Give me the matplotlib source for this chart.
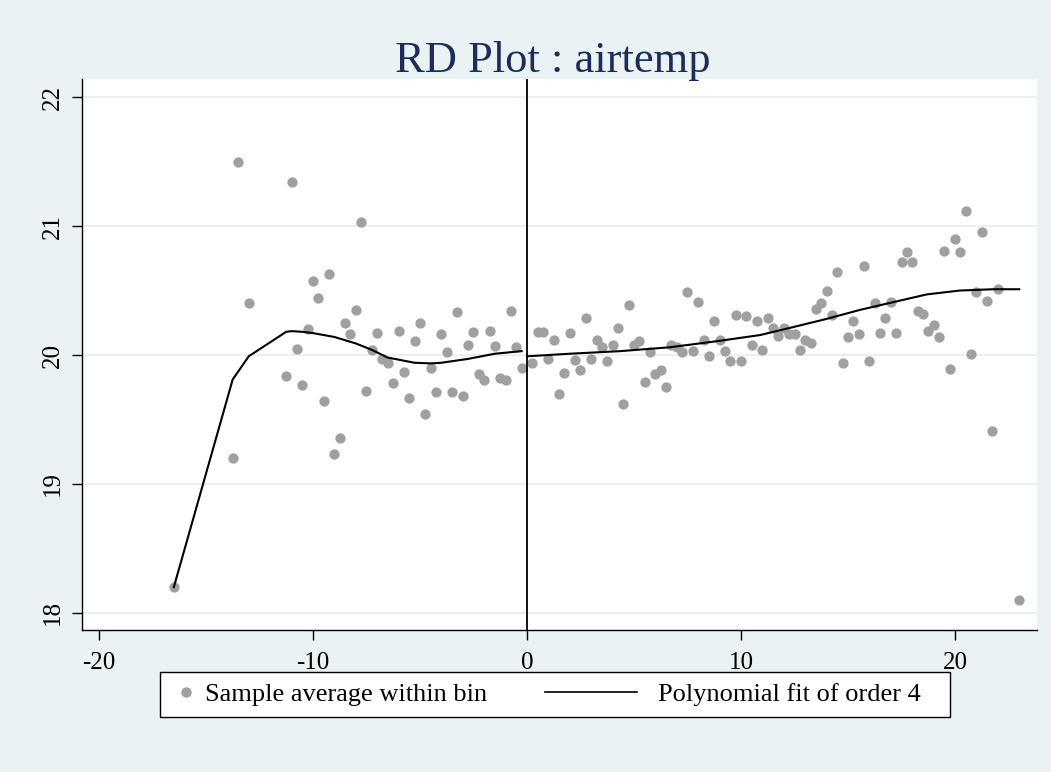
import matplotlib
matplotlib.use("Agg")
import matplotlib.pyplot as plt
from matplotlib.patches import Rectangle
from matplotlib.lines import Line2D

plt.rcParams['font.family'] = ['Liberation Serif', 'DejaVu Serif']

# bin averages, left of cutoff
x_left = [-16.5, -13.75, -13.5, -13.0, -11.25, -11.0, -10.75, -10.5, -10.25, -10.0,
          -9.75, -9.5, -9.25, -9.0, -8.75, -8.5, -8.25, -8.0, -7.75, -7.5,
          -7.25, -7.0, -6.75, -6.5, -6.25, -6.0, -5.75, -5.5, -5.25, -5.0,
          -4.75, -4.5, -4.25, -4.0, -3.75, -3.5, -3.25, -3.0, -2.75, -2.5,
          -2.25, -2.0, -1.75, -1.5, -1.25, -1.0, -0.75, -0.5, -0.25]
y_left = [18.20, 19.20, 21.50, 20.40, 19.84, 21.34, 20.05, 19.77, 20.20, 20.57,
          20.44, 19.64, 20.63, 19.23, 19.36, 20.25, 20.16, 20.35, 21.03, 19.72,
          20.04, 20.17, 19.97, 19.94, 19.78, 20.19, 19.87, 19.67, 20.11, 20.25,
          19.54, 19.90, 19.71, 20.16, 20.02, 19.71, 20.33, 19.68, 20.08, 20.18,
          19.85, 19.81, 20.19, 20.07, 19.82, 19.81, 20.34, 20.06, 19.90]

# bin averages, right of cutoff
x_right = [0.25, 0.5, 0.75, 1.0, 1.25, 1.5, 1.75, 2.0, 2.25, 2.5,
           2.75, 3.0, 3.25, 3.5, 3.75, 4.0, 4.25, 4.5, 4.75, 5.0,
           5.25, 5.5, 5.75, 6.0, 6.25, 6.5, 6.75, 7.0, 7.25, 7.5,
           7.75, 8.0, 8.25, 8.5, 8.75, 9.0, 9.25, 9.5, 9.75, 10.0,
           10.25, 10.5, 10.75, 11.0, 11.25, 11.5, 11.75, 12.0, 12.25, 12.5,
           12.75, 13.0, 13.25, 13.5, 13.75, 14.0, 14.25, 14.5, 14.75, 15.0,
           15.25, 15.5, 15.75, 16.0, 16.25, 16.5, 16.75, 17.0, 17.25, 17.5,
           17.75, 18.0, 18.25, 18.5, 18.75, 19.0, 19.25, 19.5, 19.75, 20.0,
           20.25, 20.5, 20.75, 21.0, 21.25, 21.5, 21.75, 22.0, 23.0]
y_right = [19.94, 20.18, 20.18, 19.97, 20.12, 19.70, 19.86, 20.17, 19.96, 19.88,
           20.29, 19.97, 20.12, 20.06, 19.95, 20.08, 20.21, 19.62, 20.39, 20.08,
           20.11, 19.79, 20.02, 19.85, 19.88, 19.75, 20.08, 20.06, 20.02, 20.49,
           20.03, 20.41, 20.12, 19.99, 20.26, 20.12, 20.03, 19.95, 20.31, 19.95,
           20.30, 20.08, 20.26, 20.04, 20.29, 20.21, 20.15, 20.21, 20.16, 20.16,
           20.04, 20.12, 20.09, 20.36, 20.40, 20.50, 20.31, 20.64, 19.94, 20.14,
           20.26, 20.16, 20.69, 19.95, 20.40, 20.17, 20.29, 20.41, 20.17, 20.72,
           20.80, 20.72, 20.34, 20.32, 20.19, 20.23, 20.14, 20.81, 19.89, 20.90,
           20.80, 21.12, 20.01, 20.49, 20.95, 20.42, 19.41, 20.51, 18.10]

# polynomial fit (order 4)
fit_x_left = [-16.5, -13.75, -13.5, -13.0, -11.25, -11.0, -10.5, -10.0, -9.0, -8.0,
              -7.25, -6.5, -5.25, -4.5, -4.0, -2.75, -1.5, -0.25]
fit_y_left = [18.20, 19.81, 19.87, 19.99, 20.18, 20.185, 20.18, 20.17, 20.14, 20.09,
              20.04, 19.98, 19.94, 19.935, 19.94, 19.97, 20.01, 20.03]
fit_x_right = [0.0, 2.0, 4.35, 6.68, 9.0, 10.9, 12.4, 14.0, 15.56, 17.12,
               18.68, 20.23, 21.79, 23.0]
fit_y_right = [19.99, 20.01, 20.03, 20.06, 20.11, 20.155, 20.215, 20.28, 20.35, 20.41,
               20.47, 20.50, 20.51, 20.51]

xticks = [-20, -10, 0, 10, 20]
yticks = [18, 19, 20, 21, 22]

bg = '#eaf2f3'
dot = '#a0a0a0'

fig = plt.figure(figsize=(10.51, 7.72), dpi=100, facecolor=bg)
ax = fig.add_axes([82/1051, 1-630/772, (1037-82)/1051, (630-79)/772])
ax.set_facecolor('white')

ax.scatter(x_left + x_right, y_left + y_right, s=55, color=dot, linewidths=0, zorder=3)
ax.plot(fit_x_left, fit_y_left, color='black', lw=1.5, zorder=4)
ax.plot(fit_x_right, fit_y_right, color='black', lw=1.5, zorder=4)
ax.axvline(0, color='black', lw=1.3, zorder=5)

ax.set_xlim(-20.79, 23.83)
ax.set_ylim(17.868, 22.14)
ax.set_xticks(xticks)
ax.set_yticks(yticks)
ax.set_xticklabels([str(t) for t in xticks])
ax.set_yticklabels([str(t) for t in yticks], rotation=90, va='center')
ax.tick_params(axis='both', labelsize=18, length=7, width=1, direction='out', color='black')
ax.tick_params(axis='x', pad=9)
ax.tick_params(axis='y', pad=6)
ax.grid(axis='y', color='#e6eff1', lw=1.3)
ax.set_axisbelow(True)
for side in ['top', 'right']:
    ax.spines[side].set_visible(False)
for side in ['left', 'bottom']:
    ax.spines[side].set_color('black')
    ax.spines[side].set_linewidth(1)

fig.text(553/1051, 1-61/772, 'RD Plot : airtemp', ha='center', va='center',
         fontsize=32, color='#1c2d5a')

# legend box
fig.add_artist(Rectangle((160/1051, 1-717/772), 790/1051, 45/772, transform=fig.transFigure,
                         facecolor='white', edgecolor='black', lw=1))
h1 = Line2D([], [], marker='o', ls='none', color=dot, markersize=7.5, markeredgewidth=0)
h2 = Line2D([], [], color='black', lw=1.2)
fs = 19
leg1 = fig.legend([h1], ['Sample average within bin'], loc='center left',
                  bbox_to_anchor=(175/1051, 1-694/772), frameon=False, fontsize=fs,
                  handlelength=0.8, handletextpad=0.32, borderpad=0, borderaxespad=0)
leg2 = fig.legend([h2], ['Polynomial fit of order 4'], loc='center left',
                  bbox_to_anchor=(545/1051, 1-694/772), frameon=False, fontsize=fs,
                  handlelength=3.5, handletextpad=0.8, borderpad=0, borderaxespad=0)

fig.savefig('out.png', dpi=100, facecolor=bg)
